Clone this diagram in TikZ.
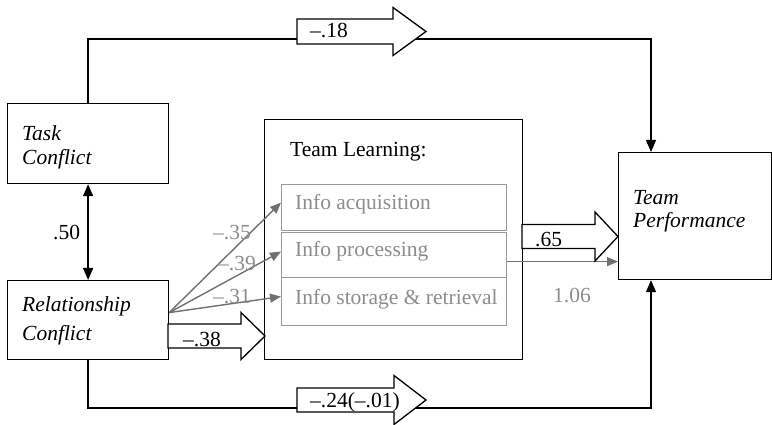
\documentclass[tikz,border=0pt]{standalone}
\usepackage{fontspec}
\setmainfont{Liberation Serif}[ItalicFont={Liberation Serif Italic}]
\usetikzlibrary{arrows.meta}
\definecolor{txtgray}{HTML}{8C8C8C}
\definecolor{arrgray}{HTML}{707070}
\definecolor{boxgray}{HTML}{999999}
\newcommand\fatarrow[6]{%
  \draw[hollow] (#1,#4-#5) -- (#2,#4-#5) -- (#2,#4-#6) -- (#3,#4) -- (#2,#4+#6) -- (#2,#4+#5) -- (#1,#4+#5) -- cycle;}
\begin{document}
\begin{tikzpicture}[x=1pt,y=-1pt,
  font=\fontsize{21.5}{26}\selectfont,
  box/.style={draw=black, line width=1.2pt, inner sep=0pt, anchor=north west},
  gbox/.style={draw=boxgray, line width=1.2pt, inner sep=0pt, anchor=north west},
  lbl/.style={inner sep=0pt, anchor=base west, text=black},
  glbl/.style={inner sep=0pt, anchor=base west, text=txtgray},
  conn/.style={draw=black, line width=1.3pt},
  garr/.style={draw=arrgray, line width=1.4pt, -{Triangle[length=11pt,width=9pt]}},
  barr/.style={draw=black, line width=1.3pt, -{Triangle[length=12pt,width=10pt]}},
  hollow/.style={draw=black, fill=white, line width=1.3pt, line join=miter}]
\useasboundingbox (0,0) rectangle (772,425);
% boxes
\node[box, minimum width=161pt, minimum height=80pt] (task) at (7,103) {};
\node[box, minimum width=161pt, minimum height=79pt] (rel) at (7,280) {};
\node[box, minimum width=258pt, minimum height=240pt] (tl) at (264,119) {};
\node[gbox, minimum width=225pt, minimum height=46pt] (acq) at (281,184) {};
\node[gbox, minimum width=225pt, minimum height=45pt] (proc) at (281,232) {};
\node[gbox, minimum width=225pt, minimum height=48pt] (stor) at (281,277) {};
\node[box, minimum width=153pt, minimum height=127pt] (tp) at (618,152) {};
% coordinates
\coordinate (tr) at (651,39);
\coordinate (br) at (651,408);
\coordinate (rc) at ([yshift=7.5pt]rel.east);
\coordinate (pc) at ([yshift=-6.5pt]proc.east);
% connectors
\draw[conn, {Triangle[length=12pt,width=10pt]}-{Triangle[length=12pt,width=10pt]}] (task.south) -- (rel.north);
\draw[barr] (task.north) |- (tr) -- (tp.north -| tr);
\draw[barr] (rel.south) |- (br) -- (tp.south -| br);
\draw[garr] (rc) -- ([yshift=5pt]acq.west);
\draw[garr] (rc) -- ([yshift=3.5pt]proc.west);
\draw[garr] (rc) -- ([yshift=5pt]stor.west);
\draw[garr] (pc) -- (pc -| tp.west);
% hollow arrows
\fatarrow{297}{393}{426}{31.5}{12.5}{24}
\fatarrow{297}{394}{426}{400}{12}{24.5}
\fatarrow{168}{241}{265}{336}{12}{23.5}
\fatarrow{522}{595}{618}{236.5}{12}{24.5}
% texts
\node[lbl] (t1) at (22,141) {\textit{Task}};
\node[lbl] (t2) at (22,165) {\textit{Conflict}};
\node[lbl] (r1) at (22,312) {\textit{Relationship}};
\node[lbl] (r2) at (22,340) {\textit{Conflict}};
\node[lbl] (p1) at (633,205) {\textit{Team}};
\node[lbl] (p2) at (633,228) {\textit{Performance}};
\node[lbl] (tlt) at (290,157) {Team Learning:};
\node[glbl] (acqt) at (295,210) {Info acquisition};
\node[glbl] (proct) at (295,257) {Info processing};
\node[glbl] (stort) at (295,305) {Info storage \& retrieval};
\node[lbl] (c50) at (53,240) {.50};
\node[glbl] (c35) at (213,240) {--.35};
\node[glbl] (c39) at (218,270) {--.39};
\node[glbl] (c31) at (213,303) {--.31};
\node[lbl] (c38) at (183,346) {--.38};
\node[lbl] (c65) at (535,247) {.65};
\node[glbl] (c106) at (553,302) {1.06};
\node[lbl] (c18) at (310,38) {--.18};
\node[lbl] (c24) at (310,407) {--.24(--.01)};
\end{tikzpicture}
\end{document}
